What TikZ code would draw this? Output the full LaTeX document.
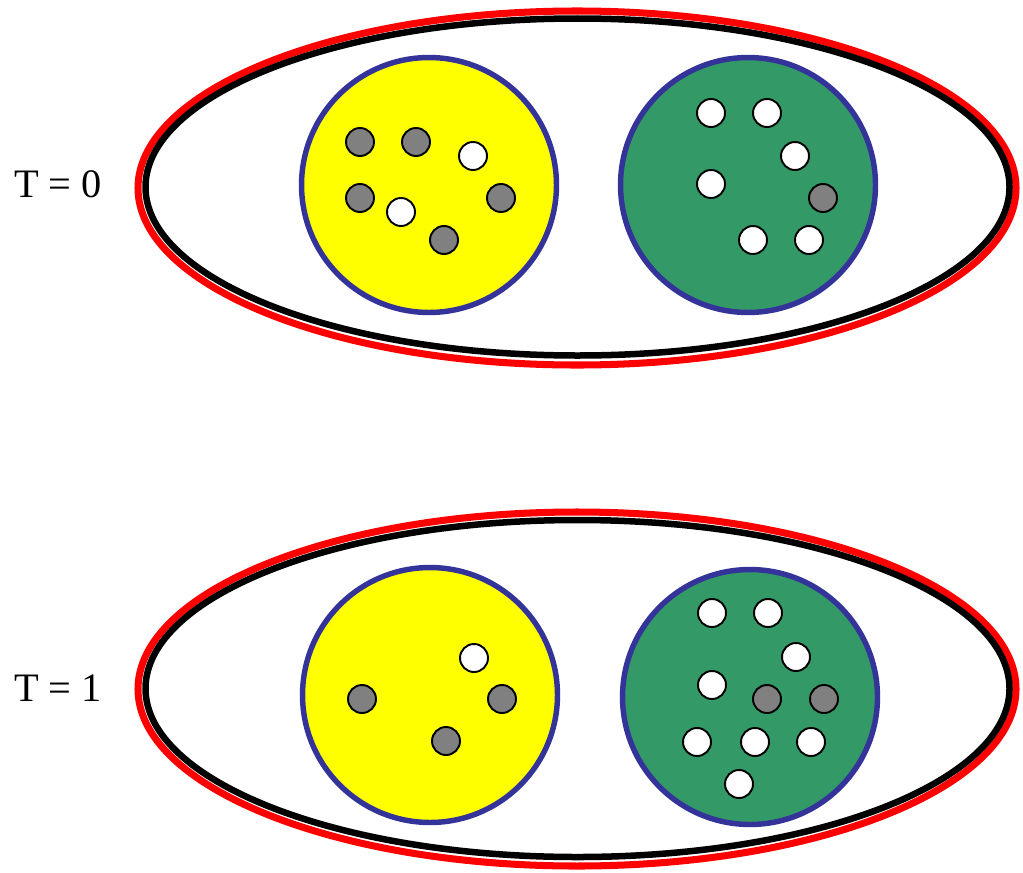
\documentclass[tikz,border=0pt]{standalone}
\usepackage{fontspec}
\setmainfont{Liberation Serif}
\usepackage{tikz}
\usetikzlibrary{shapes,positioning}
\definecolor{cellyellow}{RGB}{255, 255, 0}
\definecolor{cellgreen}{RGB}{51, 153, 102}
\definecolor{cellblue}{RGB}{51, 51, 153}
\definecolor{dotgray}{RGB}{128, 128, 128}

\tikzset{
  cell/.style={circle,draw=cellblue,line width=3.1pt,minimum size=5.1cm,inner sep=0pt},
  dot/.style={circle,draw=black,line width=1.1pt,minimum size=0.56cm,inner sep=0pt},
  full/.style={dot,fill=dotgray},
  empty/.style={dot,fill=white},
  stamp/.style={font=\fontsize{23}{27}\selectfont}
}

\begin{document}
\begin{tikzpicture}[x=0.02cm,y=-0.02cm]
\useasboundingbox (0,0) rectangle (1023,872);

% T = 0
\draw[red,line width=4pt] (577,188) ellipse (439 and 177);
\draw[black,line width=3.7pt] (577.5,187) ellipse (432 and 168.5);
\node[stamp] (t0) at (58,184) {T = 0};
\node[cell,fill=cellyellow] (ya) at (429,185) {};
\node[cell,fill=cellgreen] (ga) at (748,185) {};
\foreach \x/\y in {360/142, 416/142, 360/198, 501/198, 444/240}
  \node[full] at (\x,\y) {};
\foreach \x/\y in {473/156, 401/212}
  \node[empty] at (\x,\y) {};
\foreach \x/\y in {711/113, 767/113, 795/156, 711/184, 753/240, 809/240}
  \node[empty] at (\x,\y) {};
\node[full] at (823,198) {};

% T = 1
\draw[red,line width=4pt] (577,689) ellipse (439 and 177);
\draw[black,line width=3.7pt] (577.5,688.5) ellipse (432 and 168.5);
\node[stamp] (t1) at (58,688) {T = 1};
\node[cell,fill=cellyellow] (yb) at (430,695) {};
\node[cell,fill=cellgreen] (gb) at (750,697) {};
\node[empty] at (474,658) {};
\foreach \x/\y in {362/699, 502/699, 446/741}
  \node[full] at (\x,\y) {};
\foreach \x/\y in {712/613, 768/613, 796/657, 712/685, 697/742, 755/742, 811/742, 739/784}
  \node[empty] at (\x,\y) {};
\foreach \x/\y in {767/699, 824/699}
  \node[full] at (\x,\y) {};
\end{tikzpicture}
\end{document}
